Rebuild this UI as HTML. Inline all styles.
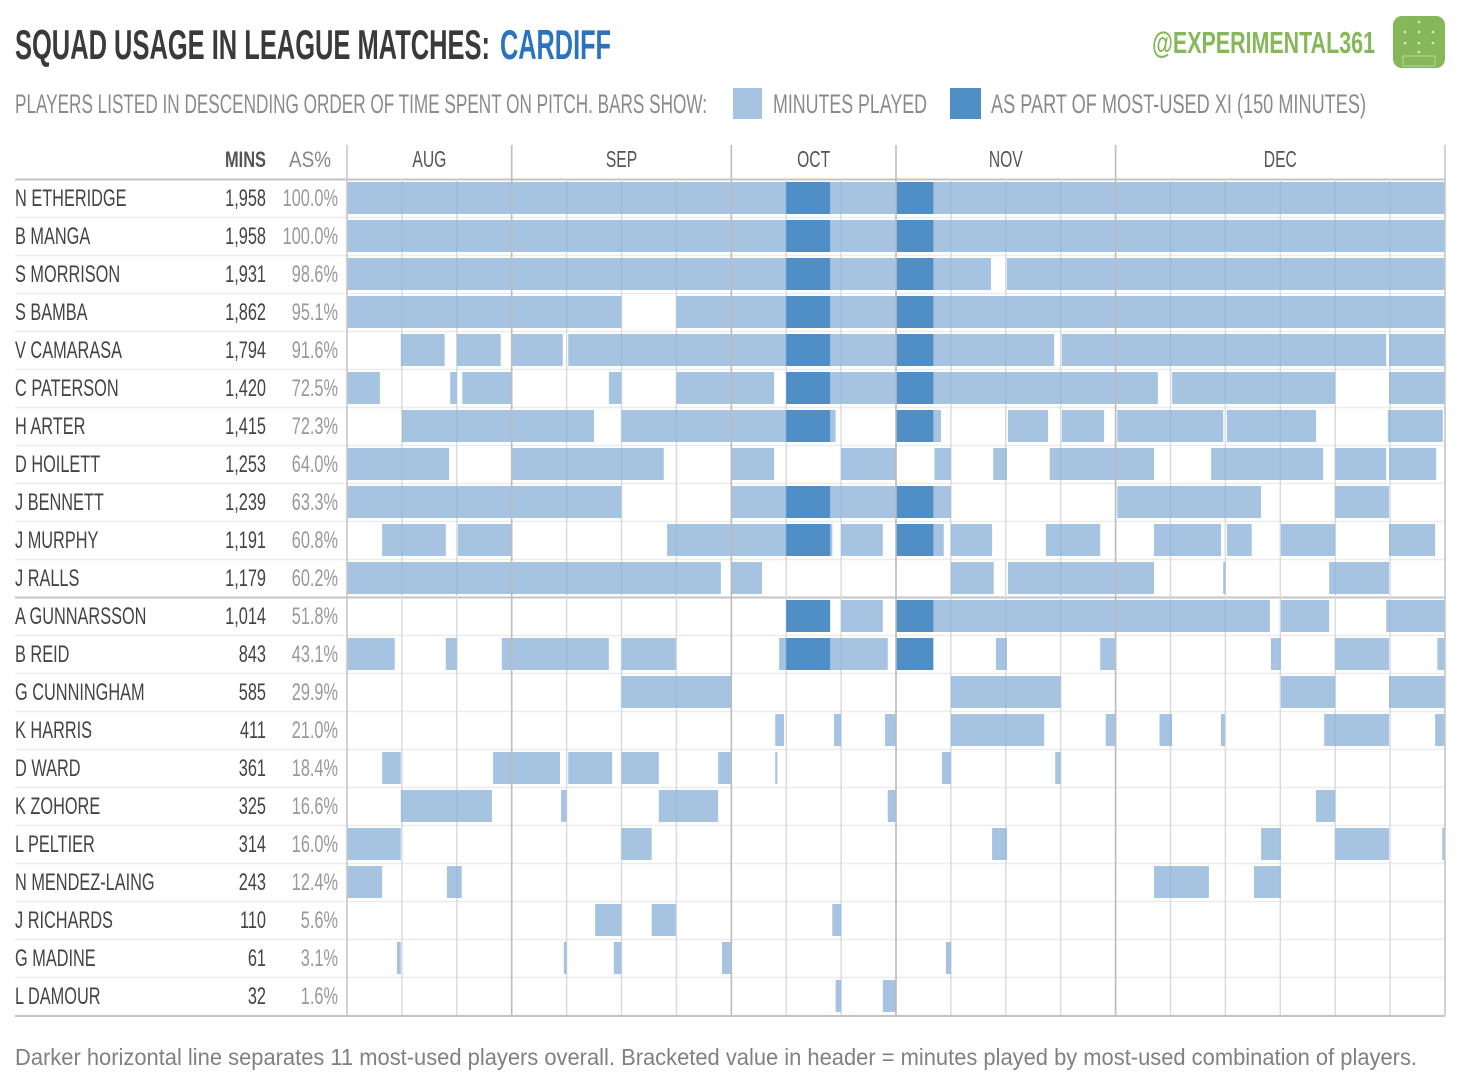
<!DOCTYPE html>
<html><head><meta charset="utf-8">
<style>
html,body{margin:0;padding:0;background:#fff;width:1460px;height:1087px;overflow:hidden}
svg text{font-family:"Liberation Sans Narrow","Liberation Sans",sans-serif}
</style></head>
<body>
<svg id="chart" width="1460" height="1087" viewBox="0 0 1460 1087" xmlns="http://www.w3.org/2000/svg">
  <text x="15" y="59" font-size="42" font-weight="bold" fill="#3a3a3a" textLength="475" lengthAdjust="spacingAndGlyphs">SQUAD USAGE IN LEAGUE MATCHES:</text>
  <text x="500" y="59" font-size="42" font-weight="bold" fill="#2b72bf" textLength="111" lengthAdjust="spacingAndGlyphs">CARDIFF</text>
  <text x="1152" y="53" font-size="31" font-weight="bold" fill="#86b85a" textLength="223" lengthAdjust="spacingAndGlyphs">@EXPERIMENTAL361</text>
  <g>
    <rect x="1393" y="16" width="52" height="52" rx="9" fill="#86b85a"/>
    <rect x="1403" y="56" width="32" height="10" fill="none" stroke="#b8d89c" stroke-width="1"/>
    <circle cx="1419" cy="22" r="1.3" fill="#d6eac4"/><circle cx="1405" cy="32" r="1.3" fill="#d6eac4"/><circle cx="1419" cy="32" r="1.3" fill="#d6eac4"/><circle cx="1433" cy="32" r="1.3" fill="#d6eac4"/><circle cx="1405" cy="43" r="1.3" fill="#d6eac4"/><circle cx="1419" cy="43" r="1.3" fill="#d6eac4"/><circle cx="1433" cy="43" r="1.3" fill="#d6eac4"/><circle cx="1419" cy="52" r="1.3" fill="#d6eac4"/>
  </g>
  <text x="15" y="113" font-size="27" fill="#8a8a8a" textLength="692" lengthAdjust="spacingAndGlyphs">PLAYERS LISTED IN DESCENDING ORDER OF TIME SPENT ON PITCH.  BARS SHOW:</text>
  <rect x="733" y="88" width="29" height="31" fill="#a6c4e2"/>
  <text x="773" y="113" font-size="27" fill="#8a8a8a" textLength="154" lengthAdjust="spacingAndGlyphs">MINUTES PLAYED</text>
  <rect x="950" y="88" width="31" height="31" fill="#4f8fc6"/>
  <text x="991" y="113" font-size="27" fill="#8a8a8a" textLength="375" lengthAdjust="spacingAndGlyphs">AS PART OF MOST-USED XI  (150 MINUTES)</text>
  <text x="266" y="167" font-size="22" font-weight="bold" fill="#555" text-anchor="end" textLength="41" lengthAdjust="spacingAndGlyphs">MINS</text>
  <text x="331" y="167" font-size="22" fill="#888" text-anchor="end" textLength="42" lengthAdjust="spacingAndGlyphs">AS%</text>
  <g id="grid"></g>
  <g id="bars"></g>
  <g id="overlay"></g>
  <g id="labels"></g>
  <text x="15" y="1065" font-size="23" fill="#808080" textLength="1402" lengthAdjust="spacingAndGlyphs" style="font-family:'Liberation Sans',sans-serif">Darker horizontal line separates 11 most-used players overall.  Bracketed value in header = minutes played by most-used combination of players.</text>
</svg>
<script>
const players = ["N ETHERIDGE","B MANGA","S MORRISON","S BAMBA","V CAMARASA","C PATERSON","H ARTER","D HOILETT","J BENNETT","J MURPHY","J RALLS","A GUNNARSSON","B REID","G CUNNINGHAM","K HARRIS","D WARD","K ZOHORE","L PELTIER","N MENDEZ-LAING","J RICHARDS","G MADINE","L DAMOUR"];
const minutes = ["1,958","1,958","1,931","1,862","1,794","1,420","1,415","1,253","1,239","1,191","1,179","1,014","843","585","411","361","325","314","243","110","61","32"];
const percents = ["100.0%","100.0%","98.6%","95.1%","91.6%","72.5%","72.3%","64.0%","63.3%","60.8%","60.2%","51.8%","43.1%","29.9%","21.0%","18.4%","16.6%","16.0%","12.4%","5.6%","3.1%","1.6%"];
const months = ["AUG","SEP","OCT","NOV","DEC"];
const monthMatches = [3,4,3,4,6];
// appearances in match units (match index + fraction of match)
const segments = [
 [[0,20]],
 [[0,20]],
 [[0,11.73],[12.02,20]],
 [[0,5],[6,20]],
 [[0.98,1.78],[2.0,2.8],[3.0,3.93],[4.03,12.88],[13.02,18.93],[18.98,20]],
 [[0,0.6],[1.88,2.0],[2.1,3.0],[4.77,5.0],[6.0,7.78],[8.0,14.77],[15.03,18.0],[18.98,20]],
 [[1.0,4.5],[5.0,8.9],[10.0,10.82],[12.04,12.77],[13.02,13.79],[14.03,15.96],[16.03,17.65],[18.96,19.96]],
 [[0,1.86],[3.0,5.77],[7.0,7.78],[9.0,10.0],[10.7,11.0],[11.77,12.02],[12.8,14.7],[15.74,17.78],[18.0,18.93],[18.98,19.84]],
 [[0,5.0],[7.0,11.0],[14.03,16.65],[18.0,18.98]],
 [[0.64,1.8],[2.02,3.0],[5.83,8.84],[9.0,9.76],[10.0,10.87],[11.0,11.75],[12.73,13.72],[14.7,15.92],[16.03,16.48],[17.01,18.0],[18.98,19.82]],
 [[0,6.81],[7.0,7.56],[11.0,11.78],[12.04,14.7],[15.96,16.0],[17.89,18.98]],
 [[8.0,8.8],[9.0,9.76],[10.0,16.81],[17.01,17.89],[18.93,20]],
 [[0,0.87],[1.8,2.0],[2.82,4.77],[5.0,5.99],[7.87,9.85],[10.0,10.68],[11.82,12.02],[13.72,13.99],[16.83,17.01],[18.0,18.98],[19.86,20]],
 [[5.0,7.0],[11.0,13.0],[17.01,18.0],[18.98,20]],
 [[7.8,7.96],[8.87,9.0],[9.8,10.0],[11.0,12.7],[13.82,13.99],[14.8,15.03],[15.92,15.99],[17.8,18.98],[19.82,20]],
 [[0.64,0.98],[2.66,3.88],[4.03,4.83],[5.0,5.68],[6.76,7.0],[7.8,7.84],[10.84,11.0],[12.9,13.0]],
 [[0.98,2.64],[3.9,4.0],[5.68,6.76],[9.85,10.0],[17.65,18.0]],
 [[0,0.98],[5.0,5.55],[11.75,12.02],[16.65,17.01],[18.0,18.98],[19.95,20]],
 [[0,0.64],[1.82,2.09],[14.7,15.7],[16.52,17.01]],
 [[4.52,5.0],[5.55,5.99],[8.84,9.0]],
 [[0.91,0.98],[3.95,4.0],[4.86,5.0],[6.83,7.0],[10.91,11.0]],
 [[8.9,9.0],[9.76,10.0]]
];
const mostUsedRows = [0,1,2,3,4,5,6,8,9,11,12];
const mostUsedSegments = [[8.0,8.8],[10.0,10.68]];

const NS="http://www.w3.org/2000/svg";
const totalMatches = monthMatches.reduce((a,b)=>a+b,0);
const X0=347, X1=1445, ROW0=179, ROWH=38;
function xScale(u){return X0+(X1-X0)*u/totalMatches;}
function rowTop(i){return ROW0+i*ROWH;}
function mk(tag,attrs,parent){const e=document.createElementNS(NS,tag);for(const k in attrs)e.setAttribute(k,attrs[k]);parent.appendChild(e);return e;}
const grid=document.getElementById('grid'),bars=document.getElementById('bars'),overlay=document.getElementById('overlay'),labels=document.getElementById('labels');
const bottom=rowTop(players.length);

for(let i=0;i<=players.length;i++){
  const l=mk('line',{x1:15,x2:X1,y1:rowTop(i)+0.5,y2:rowTop(i)+0.5,stroke:(i===0||i===11)?'#c4c4c4':'#ececec','stroke-width':(i===0||i===11)?2:1.5},grid);
  
  
}
for(let m=0;m<=totalMatches;m++){
  const l=mk('line',{x1:xScale(m),x2:xScale(m),y1:ROW0,y2:bottom,stroke:'#eaeaea','stroke-width':1.5},grid);
  
  
}
segments.forEach((segs,i)=>{
  segs.forEach(s=>{
    const r=mk('rect',{x:xScale(s[0]),y:rowTop(i)+3,width:Math.max(1.5,xScale(s[1])-xScale(s[0])),height:32,fill:'#a6c4e2'},bars);
    
    
  });
});
mostUsedRows.forEach(i=>{
  mostUsedSegments.forEach(s=>{
    const r=mk('rect',{x:xScale(s[0]),y:rowTop(i)+3,width:xScale(s[1])-xScale(s[0]),height:32,fill:'#4f8fc6'},bars);
    
    
  });
});
for(let m=1;m<totalMatches;m++){
  const l=mk('line',{x1:xScale(m),x2:xScale(m),y1:ROW0,y2:bottom,stroke:'#5a7fa8','stroke-opacity':0.12,'stroke-width':1.5},overlay);
  
  
}
let acc=0;
const boundaries=[0];
monthMatches.forEach(n=>{acc+=n;boundaries.push(acc);});
boundaries.forEach((b,k)=>{
  const l=mk('line',{x1:xScale(b),x2:xScale(b),y1:145,y2:bottom,stroke:(k===0||k===boundaries.length-1)?'#c8c8c8':'#bdbdbd','stroke-width':1.6},overlay);
  
  
});
const SX=0.68;
function ctext(x,y,anchor,size,fill,str){
  return mk('text',{x:0,y:0,transform:`translate(${x},${y}) scale(${SX},1)`,'font-size':size,fill:fill,'text-anchor':anchor},labels);
}
months.forEach((mo,k)=>{
  const t=ctext((xScale(boundaries[k])+xScale(boundaries[k+1]))/2,167,'middle',23,'#555');
  t.textContent=mo;
  
  
});
const bl=mk('line',{x1:15,x2:X1,y1:bottom+1,y2:bottom+1,stroke:'#c4c4c4','stroke-width':2},overlay);


players.forEach((p,i)=>{
  const y=rowTop(i)+27;
  const n=ctext(15,y,'start',24,'#444');
  n.textContent=p;
  
  
  const m=ctext(266,y,'end',24,'#444');
  m.textContent=minutes[i];
  
  
  const c=ctext(338,y,'end',24,'#999');
  c.textContent=percents[i];
  
  
});
</script>
</body></html>
